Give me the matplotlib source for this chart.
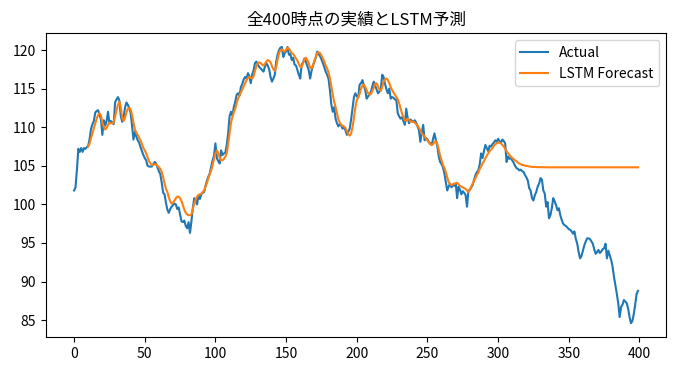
import matplotlib

matplotlib.use("Agg")
import matplotlib.pyplot as plt
import numpy as np

plt.rcParams["font.family"] = ["Noto Sans CJK JP", "DejaVu Sans"]

TITLE = "全400時点の実績とLSTM予測"
FORECAST_START = 10

# 実績 (index 0..399)
actual = [
    101.8, 102.2, 104.5, 107.2, 106.8, 107.3, 106.8, 107.3, 107.2, 107.4,
    107.6, 108.5, 109.8, 110.4, 110.8, 111.9, 112.1, 112.2, 111.6, 111.0,
    109.0, 110.9, 110.2, 110.8, 112.0, 110.5, 110.8, 110.6, 110.4, 113.2,
    113.6, 113.9, 113.5, 111.5, 110.7, 111.2, 112.5, 113.2, 112.9, 112.5,
    111.8, 110.2, 108.4, 109.4, 108.8, 108.3, 108.0, 107.4, 106.9, 106.4,
    106.0, 105.7, 105.0, 104.9, 104.9, 104.9, 105.2, 105.5, 105.3, 104.8,
    104.3, 103.9, 102.8, 101.5, 101.3, 100.2, 99.3, 98.9, 99.4, 99.7,
    99.9, 100.1, 100.0, 99.4, 99.6, 98.7, 97.8, 97.7, 97.9, 97.2,
    96.9, 97.7, 96.3, 97.8, 99.5, 100.8, 100.5, 100.0, 101.2, 100.7,
    101.3, 101.5, 101.6, 102.4, 103.1, 103.6, 104.0, 104.9, 105.7, 106.3,
    107.9, 106.0, 105.6, 105.3, 107.0, 106.4, 106.6, 106.7, 107.7, 109.2,
    111.4, 112.0, 111.5, 112.6, 113.3, 114.2, 114.4, 114.1, 115.2, 115.6,
    116.2, 116.5, 116.3, 117.0, 116.6, 115.7, 116.8, 117.4, 118.3, 118.5,
    118.1, 117.8, 117.6, 117.4, 117.2, 117.8, 118.3, 118.0, 117.5, 116.5,
    115.9, 116.3, 116.8, 118.5, 119.4, 120.0, 120.3, 120.4, 119.1, 119.6,
    119.8, 120.4, 119.4, 119.5, 118.7, 119.0, 118.1, 118.0, 117.4, 116.8,
    116.3, 118.1, 118.4, 118.9, 118.5, 117.9, 117.4, 116.3, 117.3, 118.0,
    118.5, 119.0, 119.8, 119.5, 119.2, 118.8, 118.3, 117.8, 117.2, 116.8,
    116.3, 114.8, 112.9, 112.0, 112.6, 111.1, 110.5, 110.1, 110.4, 110.2,
    109.8, 110.0, 109.6, 109.0, 109.4, 109.8, 111.0, 112.5, 113.9, 114.4,
    114.0, 113.8, 115.5, 115.7, 116.1, 115.4, 114.8, 113.7, 114.0, 114.2,
    114.6, 115.3, 115.9, 115.4, 114.9, 114.4, 114.6, 115.0, 116.8, 116.5,
    115.6, 114.9, 114.4, 115.0, 113.7, 113.9, 113.8, 113.6, 113.5, 111.8,
    111.4, 111.1, 111.3, 110.8, 110.3, 112.4, 111.2, 110.5, 111.0, 110.8,
    110.7, 110.9, 110.6, 110.1, 109.6, 108.1, 109.3, 110.3, 108.3, 108.6,
    108.4, 108.1, 107.9, 107.7, 108.5, 109.2, 108.3, 107.5, 106.2, 105.5,
    105.2, 104.8, 104.0, 102.9, 101.8, 102.3, 102.7, 102.2, 102.5, 102.4,
    102.7, 100.8, 102.3, 101.9, 101.3, 101.7, 101.5, 101.2, 99.7, 101.8,
    101.9, 102.2, 102.5, 103.2, 103.8, 104.2, 104.4, 105.2, 106.6, 106.0,
    106.9, 107.7, 107.3, 106.9, 107.6, 107.5, 107.8, 108.0, 108.3, 108.1,
    108.5, 108.2, 108.0, 108.4, 108.2, 107.9, 105.5, 106.2, 105.9, 106.0,
    105.7, 105.4, 105.0, 104.7, 104.6, 104.4, 104.5, 104.3, 104.2, 103.8,
    103.5, 103.1, 102.1, 101.8, 100.8, 100.5, 101.2, 101.6, 102.3, 102.7,
    103.4, 103.2, 101.8, 101.4, 99.7, 100.3, 98.2, 98.6, 99.5, 100.8,
    100.4, 99.9, 99.25, 99.5, 98.6, 98.0, 97.5, 97.3, 97.2, 97.0,
    96.8, 96.7, 96.5, 96.2, 96.5, 95.5, 94.9, 93.8, 93.0, 93.3,
    94.0, 94.7, 95.2, 95.6, 95.6, 95.5, 95.2, 94.9, 94.2, 93.6,
    93.8, 94.1, 93.7, 93.9, 94.2, 94.3, 94.9, 93.0, 94.0, 93.4,
    92.8, 91.9, 90.6, 89.5, 88.4, 87.2, 85.4, 86.7, 87.0, 87.6,
    87.4, 87.2, 86.5, 85.4, 84.6, 84.9, 85.8, 87.0, 88.4, 88.8,
]

# LSTM予測 (index 10..399)
forecast = [
    107.5, 107.9, 108.6, 109.2, 109.9, 110.5, 111.1, 111.6, 111.8, 111.5,
    110.6, 110.0, 109.7, 109.9, 110.3, 110.6, 110.5, 110.5, 110.6, 111.4,
    112.2, 112.9, 113.3, 112.6, 111.3, 110.8, 111.2, 111.9, 112.4, 112.5,
    112.3, 111.6, 110.6, 109.7, 109.3, 109.0, 108.6, 108.3, 107.8, 107.3,
    107.0, 106.6, 106.1, 105.6, 105.3, 105.1, 105.1, 105.2, 105.2, 105.0,
    104.8, 104.6, 104.2, 103.5, 102.7, 102.0, 101.6, 100.9, 100.4, 100.1,
    100.2, 100.5, 100.8, 101.0, 101.0, 100.8, 100.4, 99.9, 99.3, 98.9,
    98.7, 98.6, 98.6, 98.7, 99.4, 100.1, 100.6, 101.0, 101.2, 101.3,
    101.4, 101.6, 101.8, 102.3, 102.8, 103.4, 103.9, 104.4, 105.1, 105.9,
    106.6, 107.0, 106.7, 106.0, 105.7, 105.7, 105.9, 106.2, 106.6, 107.8,
    109.2, 110.6, 111.3, 111.9, 112.4, 113.1, 113.7, 114.1, 114.5, 114.9,
    115.3, 115.7, 116.1, 116.4, 116.5, 116.4, 116.3, 116.6, 117.3, 117.9,
    118.3, 118.4, 118.3, 118.1, 118.0, 118.2, 118.5, 118.7, 118.6, 118.4,
    117.9, 117.5, 117.3, 117.8, 118.8, 119.6, 120.0, 120.1, 119.9, 119.8,
    120.0, 120.3, 120.2, 119.9, 119.6, 119.5, 119.2, 118.9, 118.6, 118.2,
    117.8, 117.8, 118.3, 118.8, 119.0, 118.7, 118.3, 117.7, 117.6, 118.0,
    118.6, 119.1, 119.6, 119.7, 119.6, 119.3, 118.9, 118.5, 118.0, 117.6,
    117.1, 116.3, 115.3, 114.2, 113.3, 112.6, 111.8, 111.0, 110.6, 110.3,
    110.2, 110.1, 109.9, 109.5, 109.1, 108.9, 109.2, 110.0, 111.2, 112.6,
    113.5, 113.9, 114.3, 115.0, 115.4, 115.5, 115.2, 114.8, 114.4, 114.2,
    114.3, 114.7, 115.1, 115.6, 115.7, 115.3, 114.9, 114.7, 115.2, 115.9,
    116.2, 116.3, 116.1, 115.7, 115.2, 114.8, 114.5, 114.2, 113.9, 113.6,
    113.1, 112.4, 111.8, 111.3, 110.9, 110.8, 111.1, 111.0, 110.7, 110.7,
    110.7, 110.6, 110.4, 110.2, 109.9, 109.6, 109.2, 109.0, 108.8, 108.5,
    108.3, 108.0, 107.8, 107.7, 107.8, 108.1, 108.2, 107.8, 107.1, 106.3,
    105.7, 105.1, 104.7, 104.2, 103.5, 102.9, 102.6, 102.5, 102.6, 102.7,
    102.7, 102.8, 102.6, 102.4, 102.3, 102.2, 102.1, 102.0, 101.8, 101.6,
    101.9, 102.3, 102.7, 103.1, 103.4, 103.8, 104.1, 104.6, 104.9, 105.3,
    105.6, 106.0, 106.3, 106.6, 106.9, 107.1, 107.3, 107.6, 107.8, 107.9,
    108.0, 108.0, 107.9, 107.7, 107.5, 107.2, 106.9, 106.6, 106.4, 106.2,
    106.0, 105.9, 105.7, 105.6, 105.4, 105.3, 105.2, 105.1, 105.1, 105.0,
    105.0, 104.95, 104.9, 104.9, 104.85, 104.85, 104.84, 104.83, 104.83, 104.82,
    104.82, 104.81, 104.81, 104.81, 104.8, 104.8, 104.8, 104.8, 104.8, 104.8,
    104.8, 104.8, 104.8, 104.8, 104.8, 104.8, 104.8, 104.8, 104.8, 104.8,
    104.8, 104.8, 104.8, 104.8, 104.8, 104.8, 104.8, 104.8, 104.8, 104.8,
    104.8, 104.8, 104.8, 104.8, 104.8, 104.8, 104.8, 104.8, 104.8, 104.8,
    104.8, 104.8, 104.8, 104.8, 104.8, 104.8, 104.8, 104.8, 104.8, 104.8,
    104.8, 104.8, 104.8, 104.8, 104.8, 104.8, 104.8, 104.8, 104.8, 104.8,
    104.8, 104.8, 104.8, 104.8, 104.8, 104.8, 104.8, 104.8, 104.8, 104.8,
]


def main() -> None:
    x_actual = np.arange(len(actual))
    x_forecast = np.arange(FORECAST_START, FORECAST_START + len(forecast))

    fig, ax = plt.subplots(figsize=(6.75, 3.72), dpi=100)
    fig.subplots_adjust(left=0.068, right=0.987, bottom=0.094, top=0.911)

    ax.plot(x_actual, actual, color="#1f77b4", linewidth=1.5, label="Actual")
    ax.plot(x_forecast, forecast, color="#ff7f0e", linewidth=1.5, label="LSTM Forecast")

    ax.set_xticks([0, 50, 100, 150, 200, 250, 300, 350, 400])
    ax.set_yticks([85, 90, 95, 100, 105, 110, 115, 120])
    ax.set_title(TITLE, fontsize=12)
    ax.legend(loc="upper right")

    fig.savefig("out.png", dpi=100)
    plt.close(fig)


if __name__ == "__main__":
    main()
